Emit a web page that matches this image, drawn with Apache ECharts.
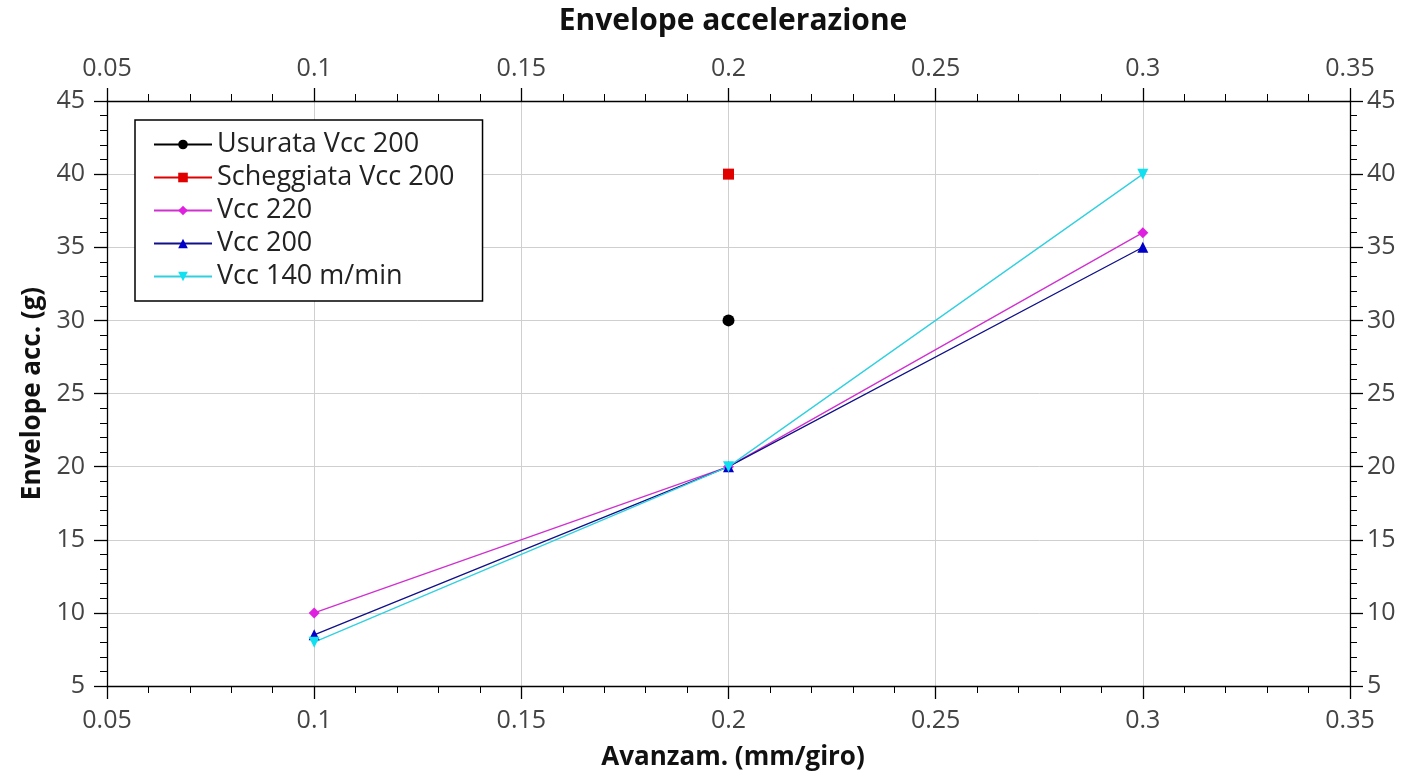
<!DOCTYPE html>
<html>
<head>
<meta charset="utf-8">
<script src="https://cdn.jsdelivr.net/npm/echarts@6/dist/echarts.min.js"></script>
<style>
  html, body { margin: 0; padding: 0; background: #fff; }
  #chart { width: 1420px; height: 776px; }
</style>
</head>
<body>
<div id="chart"></div>
<script>
const seriesNames = ['Usurata Vcc 200', 'Scheggiata Vcc 200', 'Vcc 220', 'Vcc 200', 'Vcc 140 m/min'];
const usurata = [[0.2, 30]];
const scheggiata = [[0.2, 40]];
const vcc220 = [[0.1, 10], [0.2, 20], [0.3, 36]];
const vcc200 = [[0.1, 8.5], [0.2, 20], [0.3, 35]];
const vcc140 = [[0.1, 8], [0.2, 20], [0.3, 40]];

const fontFamily = '"Open Sans", "Noto Sans", sans-serif';
const fmt = v => String(parseFloat(v.toFixed(2)));

function xAxisCfg(pos, show, margin) {
  return {
    type: 'value', position: pos, min: 0.05, max: 0.35, interval: 0.05,
    axisLine: { show: true, onZero: false, lineStyle: { color: '#000', width: 1.3 } },
    axisTick: { show: true, length: 13, lineStyle: { color: '#000', width: 1.3 } },
    minorTick: { show: true, splitNumber: 5, length: 7, lineStyle: { color: '#000', width: 1 } },
    axisLabel: { fontSize: 25, color: '#444', fontFamily, margin: margin, formatter: fmt },
    splitLine: { show: show, lineStyle: { color: '#cfcfcf', width: 1 } }
  };
}
function yAxisCfg(pos, show, margin) {
  return {
    type: 'value', position: pos, min: 5, max: 45, interval: 5,
    axisLine: { show: true, onZero: false, lineStyle: { color: '#000', width: 1.3 } },
    axisTick: { show: true, length: 13, lineStyle: { color: '#000', width: 1.3 } },
    minorTick: { show: true, splitNumber: 5, length: 7, lineStyle: { color: '#000', width: 1 } },
    axisLabel: { fontSize: 25, color: '#444', fontFamily, margin: margin },
    splitLine: { show: show, lineStyle: { color: '#cfcfcf', width: 1 } }
  };
}

const chart = echarts.init(document.getElementById('chart'));
chart.setOption({
  animation: false,
  backgroundColor: '#fff',
  title: [
    { text: 'Envelope accelerazione', left: 728, top: 1, textAlign: 'center',
      textStyle: { fontSize: 30, fontWeight: 'bold', color: '#111', fontFamily } },
    { text: 'Avanzam. (mm/giro)', left: 728, top: 740, textAlign: 'center',
      textStyle: { fontSize: 26, fontWeight: 'bold', color: '#111', fontFamily } }
  ],
  grid: { left: 107, right: 70, top: 101, bottom: 90 },
  legend: {
    orient: 'vertical', left: 135, top: 120,
    data: seriesNames,
    backgroundColor: '#fff',
    borderColor: '#000', borderWidth: 1.5, borderRadius: 0,
    padding: [10, 28, 10, 18],
    itemWidth: 58, itemHeight: 12, itemGap: 4,
    textStyle: { fontSize: 27, lineHeight: 29, color: '#222', fontFamily }
  },
  xAxis: [xAxisCfg('bottom', true, 22), xAxisCfg('top', false, 20)],
  yAxis: [
    Object.assign(yAxisCfg('left', true, 22), {
      name: 'Envelope acc. (g)', nameLocation: 'middle', nameGap: 60,
      nameTextStyle: { fontSize: 26, fontWeight: 'bold', color: '#111', fontFamily }
    }),
    yAxisCfg('right', false, 17)
  ],
  series: [
    { name: seriesNames[0], type: 'line', data: usurata, symbol: 'circle', symbolSize: 12,
      itemStyle: { color: '#000' }, lineStyle: { color: '#000', width: 1.2 } },
    { name: seriesNames[1], type: 'line', data: scheggiata, symbol: 'rect', symbolSize: 11,
      itemStyle: { color: '#e00000' }, lineStyle: { color: '#e00000', width: 1.2 } },
    { name: seriesNames[2], type: 'line', data: vcc220, symbol: 'diamond', symbolSize: 11,
      itemStyle: { color: '#e020e0' }, lineStyle: { color: '#d030d0', width: 1.3 } },
    { name: seriesNames[3], type: 'line', data: vcc200, symbol: 'triangle', symbolSize: 11,
      itemStyle: { color: '#0000c8' }, lineStyle: { color: '#10108a', width: 1.3 } },
    { name: seriesNames[4], type: 'line', data: vcc140, symbol: 'triangle', symbolRotate: 180, symbolSize: 11,
      itemStyle: { color: '#10e0f0' }, lineStyle: { color: '#30d0e0', width: 1.3 } }
  ]
});
</script>
</body>
</html>
